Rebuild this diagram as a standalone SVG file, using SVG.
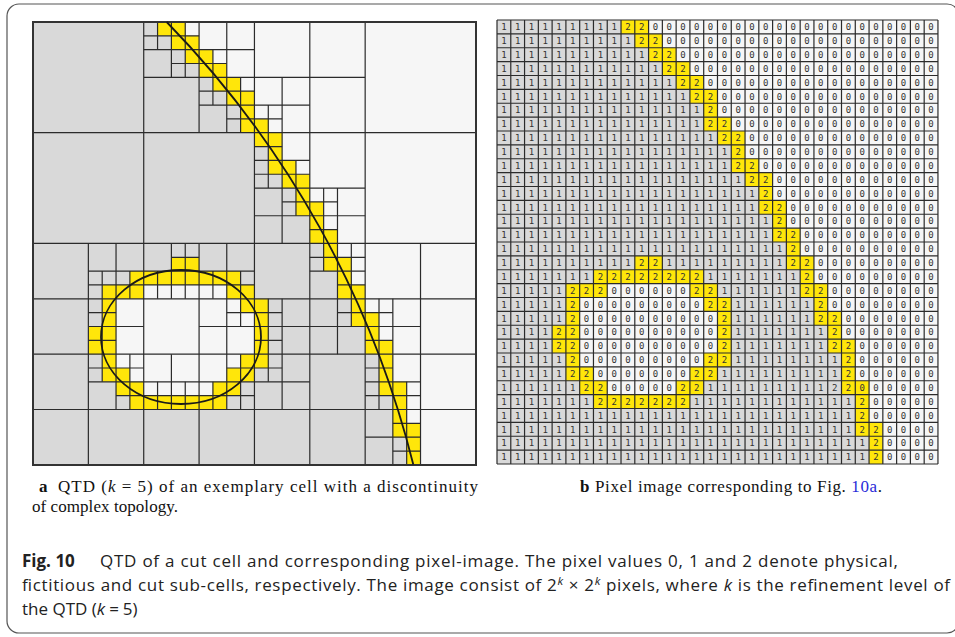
<svg xmlns="http://www.w3.org/2000/svg" xmlns:xlink="http://www.w3.org/1999/xlink" width="955" height="637" viewBox="0 0 955 637">
<style>
.d{font-family:"DejaVu Sans Mono",monospace;font-size:9px;letter-spacing:8.361px;fill:#333}
.ln{fill:none;stroke:#2b2b2b;stroke-width:1.2;vector-effect:non-scaling-stroke}
.gray{fill:#d9d9d9}
.yel{fill:#ffe60a}
.wht{fill:#f6f6f6}
.serif{font-family:"Liberation Serif","DejaVu Serif",serif;font-size:17px;fill:#111}
.sans{font-family:"Open Sans","Noto Sans",sans-serif;font-size:17px;fill:#222}
</style>
<defs>
<g id="fills">
<rect class="wht" x="0" y="0" width="32" height="32"/>
<path class="gray" d="M0 0h9v1h-9zM0 1h10v1h-10zM0 2h11v1h-11zM0 3h12v1h-12zM0 4h13v1h-13zM0 5h14v1h-14zM0 6h15v1h-15zM0 7h15v1h-15zM0 8h16v1h-16zM0 9h17v1h-17zM0 10h17v1h-17zM0 11h18v1h-18zM0 12h19v1h-19zM0 13h19v1h-19zM0 14h20v1h-20zM0 15h20v1h-20zM0 16h21v1h-21zM0 17h10v1h-10zM12 17h9v1h-9zM0 18h7v1h-7zM15 18h7v1h-7zM0 19h5v1h-5zM16 19h6v1h-6zM0 20h5v1h-5zM17 20h6v1h-6zM0 21h5v1h-5zM17 21h6v1h-6zM0 22h4v1h-4zM17 22h7v1h-7zM0 23h4v1h-4zM17 23h7v1h-7zM0 24h5v1h-5zM17 24h8v1h-8zM0 25h5v1h-5zM16 25h9v1h-9zM0 26h6v1h-6zM15 26h10v1h-10zM0 27h7v1h-7zM14 27h12v1h-12zM0 28h26v1h-26zM0 29h26v1h-26zM0 30h27v1h-27zM0 31h27v1h-27z"/>
<path class="yel" d="M9 0h2v1h-2zM10 1h2v1h-2zM11 2h2v1h-2zM12 3h2v1h-2zM13 4h2v1h-2zM14 5h2v1h-2zM15 6h1v1h-1zM15 7h2v1h-2zM16 8h2v1h-2zM17 9h1v1h-1zM17 10h2v1h-2zM18 11h2v1h-2zM19 12h1v1h-1zM19 13h2v1h-2zM20 14h1v1h-1zM20 15h2v1h-2zM21 16h1v1h-1zM10 17h2v1h-2zM21 17h2v1h-2zM7 18h8v1h-8zM22 18h1v1h-1zM5 19h3v1h-3zM14 19h2v1h-2zM22 19h2v1h-2zM5 20h1v1h-1zM15 20h2v1h-2zM23 20h1v1h-1zM5 21h1v1h-1zM16 21h1v1h-1zM23 21h2v1h-2zM4 22h2v1h-2zM16 22h1v1h-1zM24 22h1v1h-1zM4 23h2v1h-2zM16 23h1v1h-1zM24 23h2v1h-2zM5 24h1v1h-1zM15 24h2v1h-2zM25 24h1v1h-1zM5 25h2v1h-2zM14 25h2v1h-2zM25 25h1v1h-1zM6 26h2v1h-2zM13 26h2v1h-2zM25 26h2v1h-2zM7 27h7v1h-7zM26 27h1v1h-1zM26 28h1v1h-1zM26 29h2v1h-2zM27 30h1v1h-1zM27 31h1v1h-1z"/>
</g>
</defs>

<rect id="frame" x="7" y="4" width="952" height="629" rx="12" fill="none" stroke="#555" stroke-width="1.2"/>

<g id="panel-a">
<use href="#fills" xlink:href="#fills" transform="translate(33,22) scale(13.84)"/>
<g id="quadtree" transform="translate(33,22) scale(13.84)">
<path class="ln" vector-effect="non-scaling-stroke" d="M0 16H32M16 0V32M0 8H16M8 0V16M16 8H32M24 0V16M0 24H16M8 16V32M16 24H32M24 16V32M8 4H16M12 0V8M16 4H24M20 0V8M16 12H24M20 8V16M0 20H8M4 16V24M8 20H16M12 16V24M0 28H8M4 24V32M8 28H16M12 24V32M16 20H24M20 16V24M24 20H32M28 16V24M16 28H24M20 24V32M24 28H32M28 24V32"/>
<path class="ln" vector-effect="non-scaling-stroke" d="M8 2h4M10 0v4M12 2h4M14 0v4M12 6h4M14 4v4M16 6h4M18 4v4M16 10h4M18 8v4M16 14h4M18 12v4M20 14h4M22 12v4M4 18h4M6 16v4M4 22h4M6 20v4M8 18h4M10 16v4M12 18h4M14 16v4M12 22h4M14 20v4M4 26h4M6 24v4M8 26h4M10 24v4M12 26h4M14 24v4M20 18h4M22 16v4M16 22h4M18 20v4M20 22h4M22 20v4M24 22h4M26 20v4M16 26h4M18 24v4M24 26h4M26 24v4M24 30h4M26 28v4"/>
<path class="ln" vector-effect="non-scaling-stroke" d="M8 1h2M9 0v2M10 1h2M11 0v2M10 3h2M11 2v2M12 3h2M13 2v2M12 5h2M13 4v2M14 5h2M15 4v2M14 7h2M15 6v2M16 7h2M17 6v2M16 9h2M17 8v2M16 11h2M17 10v2M18 11h2M19 10v2M18 13h2M19 12v2M20 13h2M21 12v2M20 15h2M21 14v2M4 19h2M5 18v2M6 19h2M7 18v2M4 21h2M5 20v2M4 23h2M5 22v2M10 17h2M11 16v2M8 19h2M9 18v2M10 19h2M11 18v2M12 19h2M13 18v2M14 19h2M15 18v2M14 21h2M15 20v2M4 25h2M5 24v2M6 25h2M7 24v2M6 27h2M7 26v2M8 27h2M9 26v2M10 27h2M11 26v2M14 25h2M15 24v2M12 27h2M13 26v2M14 27h2M15 26v2M20 17h2M21 16v2M22 17h2M23 16v2M22 19h2M23 18v2M16 21h2M17 20v2M16 23h2M17 22v2M22 21h2M23 20v2M24 21h2M25 20v2M24 23h2M25 22v2M16 25h2M17 24v2M24 25h2M25 24v2M24 27h2M25 26v2M26 27h2M27 26v2M26 29h2M27 28v2M26 31h2M27 30v2"/>
</g>
<rect x="33" y="22" width="443" height="443" fill="none" stroke="#333" stroke-width="2"/>
<path d="M166.7 22A972 972 0 0 1 413.3 464.5" fill="none" stroke="#1a1a1a" stroke-width="1.8"/>
<ellipse cx="181" cy="337" rx="80" ry="67" fill="none" stroke="#1a1a1a" stroke-width="1.8"/>
</g>

<g id="panel-b">
<use href="#fills" xlink:href="#fills" transform="translate(497,20) scale(13.78,13.875)"/>
<g transform="translate(497,20) scale(13.78,13.875)">
<path class="ln" vector-effect="non-scaling-stroke" d="M0 0V32M1 0V32M2 0V32M3 0V32M4 0V32M5 0V32M6 0V32M7 0V32M8 0V32M9 0V32M10 0V32M11 0V32M12 0V32M13 0V32M14 0V32M15 0V32M16 0V32M17 0V32M18 0V32M19 0V32M20 0V32M21 0V32M22 0V32M23 0V32M24 0V32M25 0V32M26 0V32M27 0V32M28 0V32M29 0V32M30 0V32M31 0V32M32 0V32M0 0H32M0 1H32M0 2H32M0 3H32M0 4H32M0 5H32M0 6H32M0 7H32M0 8H32M0 9H32M0 10H32M0 11H32M0 12H32M0 13H32M0 14H32M0 15H32M0 16H32M0 17H32M0 18H32M0 19H32M0 20H32M0 21H32M0 22H32M0 23H32M0 24H32M0 25H32M0 26H32M0 27H32M0 28H32M0 29H32M0 30H32M0 31H32M0 32H32"/>
</g>
<g id="pixel-values">
<text class="d" x="501.18" y="30.14">11111111122000000000000000000000</text>
<text class="d" x="501.18" y="44.01">11111111112200000000000000000000</text>
<text class="d" x="501.18" y="57.89">11111111111220000000000000000000</text>
<text class="d" x="501.18" y="71.76">11111111111122000000000000000000</text>
<text class="d" x="501.18" y="85.64">11111111111112200000000000000000</text>
<text class="d" x="501.18" y="99.51">11111111111111220000000000000000</text>
<text class="d" x="501.18" y="113.39">11111111111111120000000000000000</text>
<text class="d" x="501.18" y="127.27">11111111111111122000000000000000</text>
<text class="d" x="501.18" y="141.14">11111111111111112200000000000000</text>
<text class="d" x="501.18" y="155.02">11111111111111111200000000000000</text>
<text class="d" x="501.18" y="168.89">11111111111111111220000000000000</text>
<text class="d" x="501.18" y="182.77">11111111111111111122000000000000</text>
<text class="d" x="501.18" y="196.64">11111111111111111112000000000000</text>
<text class="d" x="501.18" y="210.52">11111111111111111112200000000000</text>
<text class="d" x="501.18" y="224.39">11111111111111111111200000000000</text>
<text class="d" x="501.18" y="238.27">11111111111111111111220000000000</text>
<text class="d" x="501.18" y="252.14">11111111111111111111120000000000</text>
<text class="d" x="501.18" y="266.02">11111111112211111111122000000000</text>
<text class="d" x="501.18" y="279.89">11111112222222211111112000000000</text>
<text class="d" x="501.18" y="293.77">11111222000000221111112200000000</text>
<text class="d" x="501.18" y="307.64">11111200000000022111111200000000</text>
<text class="d" x="501.18" y="321.52">11111200000000002111111220000000</text>
<text class="d" x="501.18" y="335.39">11112200000000002111111120000000</text>
<text class="d" x="501.18" y="349.27">11112200000000002111111122000000</text>
<text class="d" x="501.18" y="363.14">11111200000000022111111112000000</text>
<text class="d" x="501.18" y="377.02">11111220000000221111111112000000</text>
<text class="d" x="501.18" y="390.89">11111122000002211111111122000000</text>
<text class="d" x="501.18" y="404.77">11111112222222111111111111200000</text>
<text class="d" x="501.18" y="418.64">11111111111111111111111111200000</text>
<text class="d" x="501.18" y="432.52">11111111111111111111111111220000</text>
<text class="d" x="501.18" y="446.39">11111111111111111111111111120000</text>
<text class="d" x="501.18" y="460.27">11111111111111111111111111120000</text>
</g>
</g>

<g id="captions">
<text class="serif" x="39" y="492" font-weight="bold">a</text>
<text class="serif" x="58" y="492" textLength="420" lengthAdjust="spacing">QTD (<tspan font-style="italic">k</tspan> = 5) of an exemplary cell with a discontinuity</text>
<text class="serif" x="32" y="512" textLength="146" lengthAdjust="spacing">of complex topology.</text>
<text class="serif" x="580" y="492" font-weight="bold">b</text>
<text class="serif" x="595" y="492" textLength="287" lengthAdjust="spacing">Pixel image corresponding to Fig. <tspan fill="#2a2ad8">10a</tspan>.</text>
<text class="sans" x="22" y="567" font-weight="bold">Fig. 10</text>
<text class="sans" x="100" y="567" textLength="798" lengthAdjust="spacing">QTD of a cut cell and corresponding pixel-image. The pixel values 0, 1 and 2 denote physical,</text>
<text class="sans" x="22" y="591" textLength="928" lengthAdjust="spacing">fictitious and cut sub-cells, respectively. The image consist of 2<tspan font-size="11.5" dy="-6" font-style="italic">k</tspan><tspan dy="6"> × 2</tspan><tspan font-size="11.5" dy="-6" font-style="italic">k</tspan><tspan dy="6"> pixels, where </tspan><tspan font-style="italic">k</tspan> is the refinement level of</text>
<text class="sans" x="22" y="615">the QTD (<tspan font-style="italic">k</tspan><tspan dx="4">=</tspan><tspan dx="4">5)</tspan></text>
</g>
</svg>
